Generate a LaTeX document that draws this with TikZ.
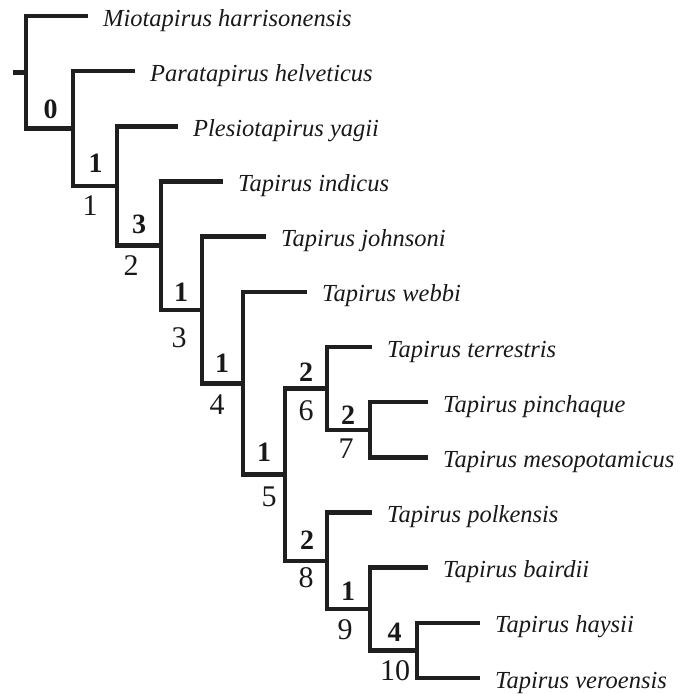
\documentclass[tikz,border=0pt]{standalone}
\usepackage{fontspec}
\setmainfont{Liberation Serif}
\begin{document}
\begin{tikzpicture}[x=1pt,y=-1pt,
  branch/.style={line width=4.5pt, draw=black!88, line join=miter, line cap=butt},
  taxon/.style={anchor=base west, inner sep=0pt, text=black!90,
    font=\fontsize{24.5}{28}\selectfont\itshape},
  support/.style={inner sep=0pt, text=black!90,
    font=\fontsize{28}{32}\selectfont\bfseries},
  clade/.style={inner sep=0pt, text=black!90,
    font=\fontsize{30}{34}\selectfont}]
\useasboundingbox (0,0) rectangle (691,694);

% internal nodes (vertical bars at their mid points)
\coordinate (stub) at (13,72.3);
\coordinate (r) at (26,72.3);
\coordinate (A) at (73,128.6);
\coordinate (B) at (117,186);
\coordinate (C) at (161,245.7);
\coordinate (D) at (202,310);
\coordinate (E) at (243,383.3);
\coordinate (F) at (285,474.6);
\coordinate (G) at (327,388.4);
\coordinate (I) at (370,429.8);
\coordinate (H) at (327,560.8);
\coordinate (J) at (370,609);
\coordinate (K) at (417,650.4);

% tips of the terminal branches
\coordinate (t0) at (88,16);
\coordinate (t1) at (135,71.2);
\coordinate (t2) at (178,126.3);
\coordinate (t3) at (223,181.5);
\coordinate (t4) at (266,236.7);
\coordinate (t5) at (307,291.9);
\coordinate (t6) at (372,347);
\coordinate (t7) at (428,402.2);
\coordinate (t8) at (428,457.4);
\coordinate (t9) at (372,512.5);
\coordinate (t10) at (428,567.7);
\coordinate (t11) at (480,622.9);
\coordinate (t12) at (480,678);

% taxon names
\node[taxon] (s0) at ([shift={(15,10)}]t0) {Miotapirus harrisonensis};
\node[taxon] (s1) at ([shift={(15,10)}]t1) {Paratapirus helveticus};
\node[taxon] (s2) at ([shift={(15,10)}]t2) {Plesiotapirus yagii};
\node[taxon] (s3) at ([shift={(15,10)}]t3) {Tapirus indicus};
\node[taxon] (s4) at ([shift={(15,10)}]t4) {Tapirus johnsoni};
\node[taxon] (s5) at ([shift={(15,10)}]t5) {Tapirus webbi};
\node[taxon] (s6) at ([shift={(15,10)}]t6) {Tapirus terrestris};
\node[taxon] (s7) at ([shift={(15,10)}]t7) {Tapirus pinchaque};
\node[taxon] (s8) at ([shift={(15,10)}]t8) {Tapirus mesopotamicus};
\node[taxon] (s9) at ([shift={(15,10)}]t9) {Tapirus polkensis};
\node[taxon] (s10) at ([shift={(15,10)}]t10) {Tapirus bairdii};
\node[taxon] (s11) at ([shift={(15,10)}]t11) {Tapirus haysii};
\node[taxon] (s12) at ([shift={(15,10)}]t12) {Tapirus veroensis};

% branches
\draw[branch] (stub) -- (r);
\draw[branch] (r) |- (t0);  \draw[branch] (r) |- (A);
\draw[branch] (A) |- (t1);  \draw[branch] (A) |- (B);
\draw[branch] (B) |- (t2);  \draw[branch] (B) |- (C);
\draw[branch] (C) |- (t3);  \draw[branch] (C) |- (D);
\draw[branch] (D) |- (t4);  \draw[branch] (D) |- (E);
\draw[branch] (E) |- (t5);  \draw[branch] (E) |- (F);
\draw[branch] (F) |- (G);   \draw[branch] (F) |- (H);
\draw[branch] (G) |- (t6);  \draw[branch] (G) |- (I);
\draw[branch] (I) |- (t7);  \draw[branch] (I) |- (t8);
\draw[branch] (H) |- (t9);  \draw[branch] (H) |- (J);
\draw[branch] (J) |- (t10); \draw[branch] (J) |- (K);
\draw[branch] (K) |- (t11); \draw[branch] (K) |- (t12);

% support values above the branches
\node[support] (bA) at (50.5,109) {0};
\node[support] (bB) at (95.5,163) {1};
\node[support] (bC) at (139,224) {3};
\node[support] (bD) at (181,292) {1};
\node[support] (bE) at (222,363) {1};
\node[support] (bF) at (264,452) {1};
\node[support] (bG) at (306,372) {2};
\node[support] (bI) at (348,415) {2};
\node[support] (bH) at (307,540) {2};
\node[support] (bJ) at (348,591) {1};
\node[support] (bK) at (394.5,632) {4};

% clade numbers below the branches
\node[clade] (cB) at (90,206) {1};
\node[clade] (cC) at (131,266) {2};
\node[clade] (cD) at (179,338) {3};
\node[clade] (cE) at (217,405) {4};
\node[clade] (cF) at (269,497) {5};
\node[clade] (cG) at (306,411) {6};
\node[clade] (cI) at (346,449) {7};
\node[clade] (cH) at (306,578) {8};
\node[clade] (cJ) at (345,630) {9};
\node[clade] (cK) at (395,671) {10};
\end{tikzpicture}
\end{document}
